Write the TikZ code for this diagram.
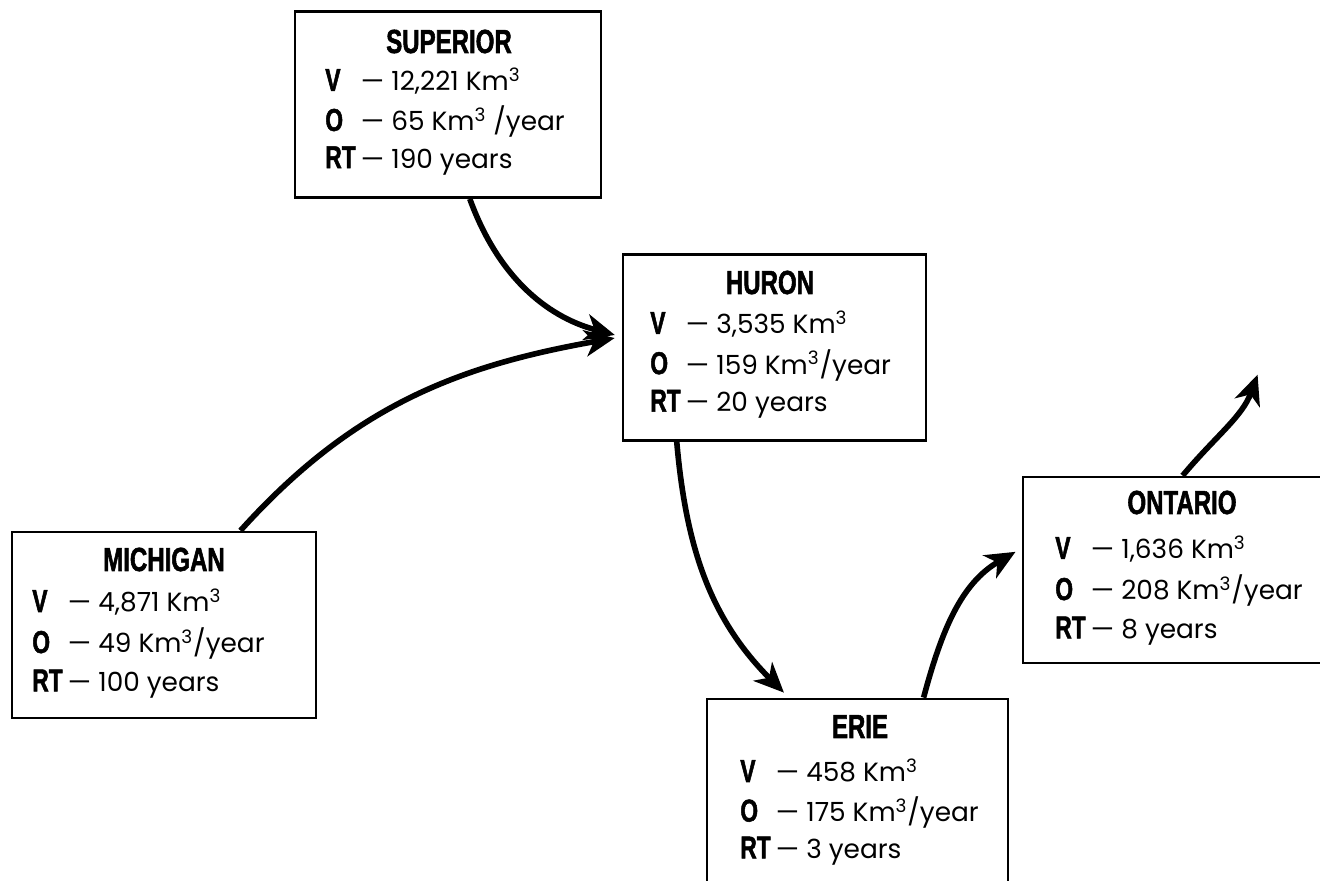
\documentclass[tikz,border=0pt]{standalone}
\usepackage{fontspec}
\setmainfont{Poppins}
\newfontfamily\lakefont[FakeStretch=0.72,BoldFeatures={FakeBold=1.6}]{Liberation Sans}
\RequirePackage{tikz}
\RequirePackage{tkz-euclide}
\usetikzlibrary{calc}
\usetikzlibrary{arrows.meta}
\usetikzlibrary{positioning}

\newcommand{\lakelbl}[1]{{\lakefont\bfseries\fontsize{18}{18}\selectfont #1}}
\newcommand{\lakerows}[4]{%
  \begin{tabular}[t]{@{}l@{\hspace{3pt}}l@{}}
    \lakelbl{V}  & --- #2\\[#1]
    \lakelbl{O}  & --- #3\\[#1]
    \lakelbl{RT} & --- #4
  \end{tabular}}

\begin{document}
\begin{tikzpicture}[x=0.02cm,y=-0.02cm,
                    lakebox/.style={draw,line width=1.6pt,inner sep=0pt,minimum height=3.72cm},
                    lakename/.style={anchor=base,font=\lakefont\bfseries\fontsize{19}{19}\selectfont},
                    lakedata/.style={anchor=base west,inner sep=0pt,font=\fontsize{15}{18}\selectfont},
                    flow/.style={line width=3.2pt,shorten >=4pt,-{Stealth[length=17pt,width=15pt,inset=5pt]}}]
                    \clip (0,0) rectangle (1320,881);

                    \node[lakebox,minimum width=6.12cm] (sup) at (448,104.5) {};
                    \node[lakebox,minimum width=6.06cm] (hur) at (774.5,347.5) {};
                    \node[lakebox,minimum width=6.08cm] (mich) at (164,625) {};
                    \node[lakebox,minimum width=6.12cm] (ont) at (1176,570) {};
                    \node[lakebox,minimum width=6.02cm] (erie) at (857.5,792) {};

                    \node[lakename] (supname) at (449,53) {SUPERIOR};
                    \node[lakename] (hurname) at (770,294) {HURON};
                    \node[lakename] (michname) at (164,571) {MICHIGAN};
                    \node[lakename] (ontname) at (1182,514) {ONTARIO};
                    \node[lakename] (eriename) at (860,738) {ERIE};

                    \node[lakedata] (supdata) at (325,91) {\lakerows{3.2pt}{12,221 Km\textsuperscript{3}}{65 Km\textsuperscript{3} /year}{190 years}};
                    \node[lakedata] (hurdata) at (650,334) {\lakerows{3.3pt}{3,535 Km\textsuperscript{3}}{159 Km\textsuperscript{3}/year}{20 years}};
                    \node[lakedata] (michdata) at (32,612) {\lakerows{3.8pt}{4,871 Km\textsuperscript{3}}{49 Km\textsuperscript{3}/year}{100 years}};
                    \node[lakedata] (ontdata) at (1055,559) {\lakerows{3.8pt}{1,636 Km\textsuperscript{3}}{208 Km\textsuperscript{3}/year}{8 years}};
                    \node[lakedata] (eriedata) at (740,782) {\lakerows{3pt}{458 Km\textsuperscript{3}}{175 Km\textsuperscript{3}/year}{3 years}};

                    \tkzDefPoint(1260,368){outlet}

                    \draw[flow] (sup.-77) to[out=-70,in=165] (hur.176);
                    \draw[flow] (mich.51) to[out=48,in=190] (hur.176);
                    \draw[flow] (hur.-136) to[out=-85,in=135] (erie.126);
                    \draw[flow] (erie.55) to[out=75,in=210] (ont.172);
                    \draw[flow] (ont.86) to[out=50,in=-110] (outlet);
                \end{tikzpicture}
\end{document}
